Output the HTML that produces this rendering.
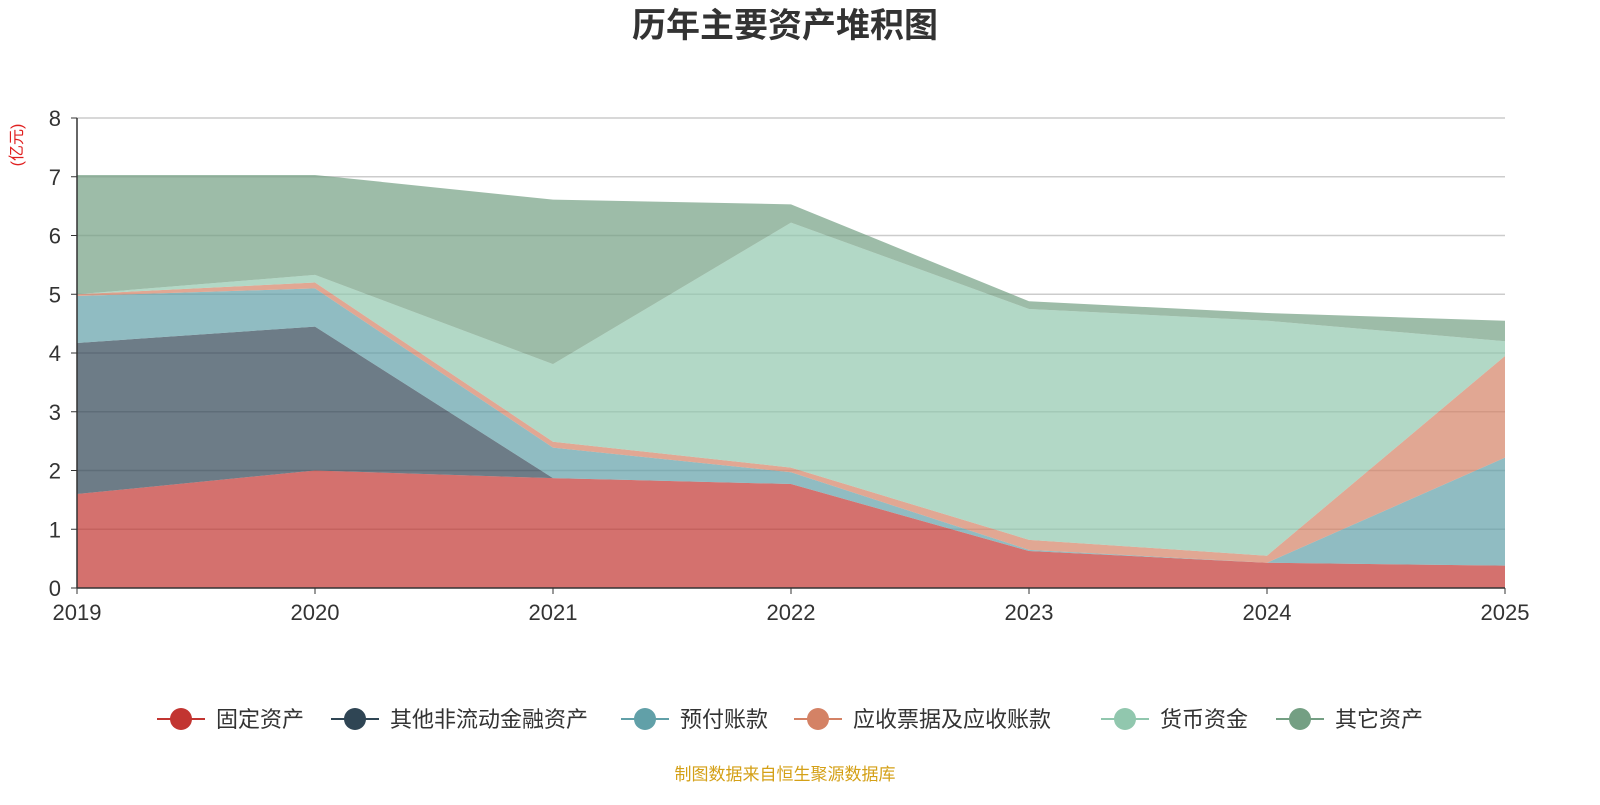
<!DOCTYPE html>
<html><head><meta charset="utf-8"><style>
body{margin:0;background:#fff;width:1600px;height:800px;overflow:hidden;font-family:"Liberation Sans","Noto Sans CJK SC",sans-serif}
</style></head><body>
<svg id="c" width="1600" height="800" xmlns="http://www.w3.org/2000/svg">
<text x="785" y="37" text-anchor="middle" font-size="34" font-weight="bold" fill="#333" font-family="Liberation Sans,Noto Sans CJK SC,sans-serif">历年主要资产堆积图</text>
<text transform="translate(22,145) rotate(-90)" text-anchor="middle" font-size="16" fill="#e02020" font-family="Liberation Sans,Noto Sans CJK SC,sans-serif">(亿元)</text>
<g id="grid"></g><g id="areas"></g><g id="axes"></g><g id="legend"></g>
<text x="785" y="780" text-anchor="middle" font-size="17" fill="#d4a017" font-family="Liberation Sans,Noto Sans CJK SC,sans-serif">制图数据来自恒生聚源数据库</text>
</svg>
<script>
const years=["2019","2020","2021","2022","2023","2024","2025"];
const yTicks=[0,1,2,3,4,5,6,7,8];
const seriesNames=["固定资产","其他非流动金融资产","预付账款","应收票据及应收账款","货币资金","其它资产"];
const fixedAssets=[1.6,2.0,1.87,1.77,0.63,0.43,0.38];
const otherNonCurrent=[2.57,2.45,0,0,0,0,0];
const prepayments=[0.8,0.65,0.52,0.2,0.02,0,1.84];
const receivables=[0.03,0.1,0.1,0.08,0.17,0.12,1.73];
const cash=[0,0.13,1.32,4.17,3.93,4.0,0.25];
const otherAssets=[2.03,1.7,2.8,0.31,0.13,0.13,0.35];
const colors=["#c23531","#2f4554","#61a0a8","#d48265","#91c7ae","#749f83"];
const NS="http://www.w3.org/2000/svg";
const x0=77,x1=1505,y0=588,y1=118,ymax=8;
const X=i=>x0+(x1-x0)*i/(years.length-1);
const Y=v=>y0-(y0-y1)*v/ymax;
function mk(t,a,p){const e=document.createElementNS(NS,t);for(const k in a)e.setAttribute(k,a[k]);p.appendChild(e);return e;}
const F="Liberation Sans,Noto Sans CJK SC,sans-serif";
const grid=document.getElementById('grid'),axes=document.getElementById('axes'),areas=document.getElementById('areas'),legend=document.getElementById('legend');
yTicks.forEach(t=>{
 if(t>0){const l=mk('line',{x1:x0,x2:x1,y1:Y(t),y2:Y(t),stroke:'#ccc','stroke-width':1.5},grid);
 
 }
 const tx=mk('text',{x:x0-16,y:Y(t)+8,'text-anchor':'end','font-size':22,fill:'#333','font-family':F},axes);tx.textContent=t;
 
 
 mk('line',{x1:x0-6,x2:x0,y1:Y(t),y2:Y(t),stroke:'#333'},axes);
});
years.forEach((y,i)=>{
 const tx=mk('text',{x:X(i),y:y0+32,'text-anchor':'middle','font-size':22,fill:'#333','font-family':F},axes);tx.textContent=y;
 
 
 mk('line',{x1:X(i),x2:X(i),y1:y0,y2:y0+6,stroke:'#333'},axes);
});
mk('line',{x1:x0,x2:x0,y1:y1,y2:y0,stroke:'#333','stroke-width':1.5},axes);
mk('line',{x1:x0,x2:x1,y1:y0,y2:y0,stroke:'#333','stroke-width':1.5},axes);
const data=[fixedAssets,otherNonCurrent,prepayments,receivables,cash,otherAssets];
let base=years.map(()=>0);
const keys=["fixed-assets","other-non-current","prepayments","receivables","cash","other-assets"];
data.forEach((s,k)=>{
 const top=base.map((b,i)=>b+s[i]);
 let d='M'+top.map((v,i)=>X(i)+','+Y(v)).join('L');
 for(let i=years.length-1;i>=0;i--)d+='L'+X(i)+','+Y(base[i]);
 const p=mk('path',{d:d+'Z',fill:colors[k],'fill-opacity':0.7},areas);
 
 
 base=top;
});
const legendX=[181,355,645,818,1125,1300];
seriesNames.forEach((n,k)=>{
 const lx=legendX[k];
 const g=mk('g',{},legend);
 
 
 mk('line',{x1:lx-24,x2:lx+24,y1:719,y2:719,stroke:colors[k],'stroke-width':2},g);
 mk('circle',{cx:lx,cy:719,r:11,fill:colors[k]},g);
 const t=mk('text',{x:lx+35,y:727,'font-size':22,fill:'#333','font-family':F},g);t.textContent=n;
});
</script>
</body></html>
